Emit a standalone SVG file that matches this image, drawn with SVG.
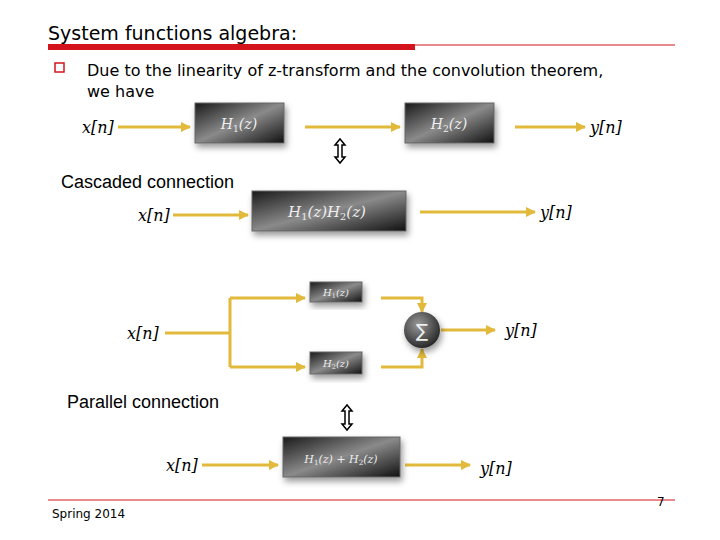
<svg xmlns="http://www.w3.org/2000/svg" width="720" height="540" viewBox="0 0 720 540">
<defs>
<linearGradient id="g" x1="0" y1="0" x2="1" y2="1"><stop offset="0" stop-color="#1a1a1a"/><stop offset="0.5" stop-color="#8a8a8a"/><stop offset="1" stop-color="#111"/></linearGradient>
<radialGradient id="rg" cx="0.4" cy="0.35" r="0.7"><stop offset="0" stop-color="#999"/><stop offset="1" stop-color="#222"/></radialGradient>
<marker id="a" viewBox="0 0 10 10" refX="9" refY="5" markerWidth="3.5" markerHeight="3.5" orient="auto"><path d="M0,0L10,5L0,10z" fill="#e2b93b"/></marker>
<filter id="s" x="-20%" y="-20%" width="140%" height="160%"><feDropShadow dx="2" dy="4" stdDeviation="3" flood-opacity="0.4"/></filter>
</defs>
<style>
.b{fill:url(#g);stroke:#666;stroke-width:1;filter:url(#s)}
.m{font-family:"DejaVu Serif",serif;font-style:italic;fill:#eee}
.sub{font-size:65%;font-style:normal}
.v{font-family:"DejaVu Serif",serif;font-style:italic;fill:#000;font-size:16px}
.c{stroke:#e2b93b;stroke-width:3;fill:none}
.ca{stroke:#e2b93b;stroke-width:3;fill:none;marker-end:url(#a)}
.t{font-family:"DejaVu Sans",sans-serif;fill:#000}
.a{font-family:"Liberation Sans",Arial,sans-serif;fill:#000}
</style>
<rect width="720" height="540" fill="#fff"/>
<text class="t" x="48" y="40" font-size="19">System functions algebra:</text>
<rect x="48" y="44" width="367" height="6" fill="#d4141c"/>
<line x1="415" y1="45" x2="675" y2="45" stroke="#d4141c" stroke-width="1"/>
<rect x="55" y="63" width="9" height="9" fill="none" stroke="#d4141c" stroke-width="1.5"/>
<text class="t" x="87" y="76" font-size="16">Due to the linearity of z-transform and the convolution theorem,</text>
<text class="t" x="87" y="97" font-size="16">we have</text>
<text class="a" x="61" y="188" font-size="18">Cascaded connection</text>
<text class="a" x="67" y="408" font-size="18">Parallel connection</text>
<line x1="48" y1="500" x2="675" y2="500" stroke="#d4141c" stroke-width="1"/>
<text class="t" x="52" y="518" font-size="12">Spring 2014</text>
<text class="t" x="657" y="506" font-size="12">7</text>
<g id="connectors">
<line class="ca" x1="118" y1="127" x2="190" y2="127"/>
<line class="ca" x1="305" y1="127" x2="400" y2="127"/>
<line class="ca" x1="515" y1="127" x2="585" y2="127"/>
<line class="ca" x1="173" y1="215" x2="248" y2="215"/>
<line class="ca" x1="420" y1="212" x2="535" y2="212"/>
<path class="c" d="M165,333H230M230,298V367"/>
<line class="ca" x1="230" y1="298" x2="305" y2="298"/>
<line class="ca" x1="230" y1="367" x2="305" y2="367"/>
<path class="ca" d="M381,298H422V312"/>
<path class="ca" d="M381,367H422V349"/>
<line class="ca" x1="441" y1="330" x2="495" y2="330"/>
<line class="ca" x1="202" y1="465" x2="278" y2="465"/>
<line class="ca" x1="405" y1="465" x2="470" y2="465"/>
</g>
<g id="dbl1"><path d="M335,145l5,-6l5,6h-3v12h3l-5,6l-5,-6h3v-12z" fill="#fff" stroke="#000" stroke-width="1.5"/></g>
<g id="dbl2"><path d="M342,411l5,-6l5,6h-3v13h3l-5,6l-5,-6h3v-13z" fill="#fff" stroke="#000" stroke-width="1.5"/></g>
<g id="H1"><rect class="b" x="195" y="103" width="89" height="40"/><text class="m" x="239" y="129" font-size="14" text-anchor="middle">H<tspan class="sub" dy="3">1</tspan><tspan dy="-3">(z)</tspan></text></g>
<g id="H2"><rect class="b" x="405" y="103" width="89" height="40"/><text class="m" x="449" y="129" font-size="14" text-anchor="middle">H<tspan class="sub" dy="3">2</tspan><tspan dy="-3">(z)</tspan></text></g>
<g id="H12"><rect class="b" x="252" y="191" width="154" height="40"/><text class="m" x="327" y="217" font-size="15" text-anchor="middle">H<tspan class="sub" dy="3">1</tspan><tspan dy="-3">(z)H</tspan><tspan class="sub" dy="3">2</tspan><tspan dy="-3">(z)</tspan></text></g>
<g id="P1"><rect class="b" x="310" y="282" width="52" height="20"/><text class="m" x="336" y="296" font-size="10" text-anchor="middle">H<tspan class="sub" dy="2">1</tspan><tspan dy="-2">(z)</tspan></text></g>
<g id="P2"><rect class="b" x="310" y="352" width="52" height="22"/><text class="m" x="336" y="367" font-size="10" text-anchor="middle">H<tspan class="sub" dy="2">2</tspan><tspan dy="-2">(z)</tspan></text></g>
<g id="sum"><circle cx="422" cy="330" r="18" fill="url(#rg)" filter="url(#s)"/><text x="422" y="337" font-family="DejaVu Sans,sans-serif" font-size="18" fill="#eee" text-anchor="middle">∑</text></g>
<g id="Hsum"><rect class="b" x="283" y="437" width="117" height="40"/><text class="m" x="341" y="463" font-size="11" text-anchor="middle">H<tspan class="sub" dy="2">1</tspan><tspan dy="-2">(z) + H</tspan><tspan class="sub" dy="2">2</tspan><tspan dy="-2">(z)</tspan></text></g>
<g id="labels">
<text class="v" x="82" y="133">x[n]</text>
<text class="v" x="590" y="133">y[n]</text>
<text class="v" x="138" y="221">x[n]</text>
<text class="v" x="540" y="218">y[n]</text>
<text class="v" x="127" y="339">x[n]</text>
<text class="v" x="505" y="336">y[n]</text>
<text class="v" x="166" y="471">x[n]</text>
<text class="v" x="480" y="474">y[n]</text>
</g>
</svg>
